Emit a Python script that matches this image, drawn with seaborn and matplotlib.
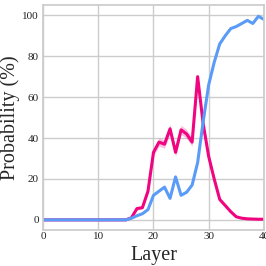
import numpy as np
import pandas as pd
import matplotlib
matplotlib.use("Agg")
import matplotlib.pyplot as plt
import seaborn as sns

layers = list(range(41))

# values (percent)
pink_prob = [0, 0, 0, 0, 0, 0, 0, 0, 0, 0,
             0, 0, 0, 0, 0, 0, 1, 5.5, 6, 14,
             33, 38, 37, 44.5, 33, 44, 42, 38, 70, 47,
             31, 20, 10, 7, 4, 1.5, 0.8, 0.5, 0.4, 0.3, 0.3]
pink_err = [0, 0, 0, 0, 0, 0, 0, 0, 0, 0,
            0, 0, 0, 0, 0, 0, 0.3, 0.8, 0.8, 1.2,
            1.8, 2.0, 2.0, 2.2, 2.0, 2.2, 2.2, 2.0, 1.5, 1.2,
            1.0, 0.8, 0.6, 0.4, 0.3, 0.2, 0.1, 0.1, 0.1, 0.1, 0.1]
blue_prob = [0, 0, 0, 0, 0, 0, 0, 0, 0, 0,
             0, 0, 0, 0, 0, 0, 0.8, 2, 3, 5,
             12, 14, 16, 10.5, 21, 12, 13.5, 17, 28, 48,
             66, 77, 86, 90, 93.5, 94.5, 96, 97.5, 96, 99.5, 98]

pink = "#F0047F"
blue = "#5B9BF8"

sns.set_theme(style="whitegrid")
plt.rcParams['font.family'] = ['Liberation Serif', 'DejaVu Serif']

df = pd.DataFrame({'layer': layers, 'pink': pink_prob, 'blue': blue_prob})
lo = np.array(pink_prob) - np.array(pink_err)
hi = np.array(pink_prob) + np.array(pink_err)

fig, ax = plt.subplots(figsize=(2.66, 2.66), dpi=100)
ax.fill_between(layers, lo, hi, color=pink, alpha=0.25, linewidth=0)
sns.lineplot(data=df, x='layer', y='pink', color=pink, linewidth=2.2, ax=ax)
sns.lineplot(data=df, x='layer', y='blue', color=blue, linewidth=2.2, ax=ax)

ax.set_xlim(0, 40)
ax.set_ylim(-5, 105)
ax.set_xticks([0, 10, 20, 30, 40])
ax.set_yticks([0, 20, 40, 60, 80, 100])
ax.tick_params(axis='both', labelsize=8, length=0, colors='#222222')
ax.tick_params(axis='x', pad=1.5)
ax.tick_params(axis='y', pad=3)
ax.set_xlabel('Layer', fontsize=14.5)
ax.set_ylabel('Probability (%)', fontsize=14.5)
ax.xaxis.set_label_coords(0.5, -0.072)
ax.yaxis.set_label_coords(-0.105, 0.5)

fig.subplots_adjust(left=0.162, right=0.992, top=0.981, bottom=0.135)
fig.savefig('out.png', dpi=100)
